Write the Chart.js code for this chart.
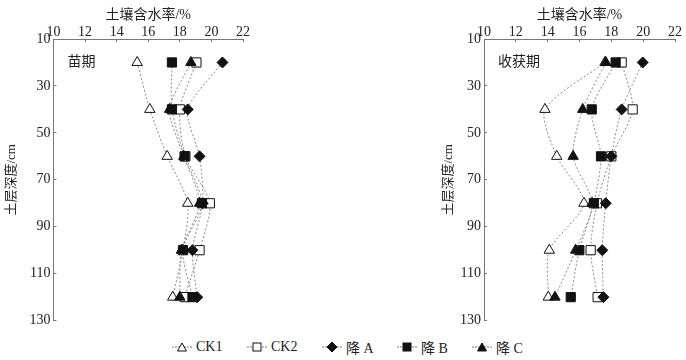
<!DOCTYPE html>
<html>
<head>
<meta charset="utf-8">
<script src="https://cdn.jsdelivr.net/npm/chart.js@4.4.1/dist/chart.umd.min.js"></script>
<style>
  body { margin: 0; width: 686px; height: 360px; background: #fff; position: relative; overflow: hidden;
         font-family: "Liberation Serif", "Noto Sans CJK SC", serif; }
  #wrapL { position: absolute; left: 0; top: 0; width: 260px; height: 335px; }
  #wrapR { position: absolute; left: 430px; top: 0; width: 256px; height: 335px; }
  .item { position: absolute; top: 339px; height: 16px; display: flex; align-items: center; font-size: 14px; color: #222; }
  .item svg { margin-right: 4px; }
</style>
</head>
<body>
<div id="wrapL"><canvas id="seedling"></canvas></div>
<div id="wrapR"><canvas id="harvest"></canvas></div>
<div id="legend"></div>
<script>
// depth of each sampling layer (cm)
const depths = [20, 40, 60, 80, 100, 120];
const seriesNames = ['CK1', 'CK2', '降 A', '降 B', '降 C'];
const xTicks = [10, 12, 14, 16, 18, 20, 22];
const yTicks = [10, 30, 50, 70, 90, 110, 130];

// 苗期 soil moisture (%)
const seedCK1 = [15.3, 16.1, 17.2, 18.5, 18.2, 17.55];
const seedCK2 = [19.05, 18.0, 18.35, 19.9, 19.25, 18.3];
const seedA   = [20.7, 18.5, 19.25, 19.45, 18.8, 19.1];
const seedB   = [17.5, 17.5, 18.3, 19.4, 18.2, 18.8];
const seedC   = [18.7, 17.35, 18.25, 19.25, 18.1, 18.0];

// 收获期 soil moisture (%)
const harvCK1 = [17.6, 13.83, 14.57, 16.28, 14.1, 14.04];
const harvCK2 = [18.65, 19.34, 18.0, 17.1, 16.7, 17.14];
const harvA   = [19.97, 18.65, 18.0, 17.65, 17.43, 17.5];
const harvB   = [18.27, 16.77, 17.35, 16.9, 15.99, 15.45];
const harvC   = [17.65, 16.2, 15.6, 16.8, 15.76, 14.46];

const styles = [
    { point: 'triangle', fill: '#fff', radius: 6 },
    { point: 'rect', fill: '#fff', radius: 6.5 },
    { point: 'rectRot', fill: '#111', radius: 5.5 },
    { point: 'rect', fill: '#111', radius: 6.5 },
    { point: 'triangle', fill: '#111', radius: 6 }
];

const serif = '"Liberation Serif", "Noto Sans CJK SC", serif';

function buildDatasets(valueLists) {
    return valueLists.map((vals, i) => ({
        label: seriesNames[i],
        data: depths.map((d, j) => ({ x: vals[j], y: d })),
        order: 5 - i, // filled markers sit on top of the open ones
        borderColor: '#8a8a8a',
        borderWidth: 1,
        borderDash: [2, 2],
        pointStyle: styles[i].point,
        pointRadius: styles[i].radius,
        pointBackgroundColor: styles[i].fill,
        pointBorderColor: '#111',
        pointBorderWidth: 1,
        tension: 0.25,
        fill: false
    }));
}

const panelLabel = {
    id: 'panelLabel',
    afterDraw(chart, args, opts) {
        const { ctx, chartArea } = chart;
        ctx.save();
        ctx.font = '14px ' + serif;
        ctx.fillStyle = '#222';
        ctx.textBaseline = 'middle';
        ctx.fillText(opts.text, chartArea.left + 14, chartArea.top + 23);
        ctx.restore();
    }
};

function renderPanel(id, valueLists, text, yWidth, yTitlePad, rightPad) {
    const ctx = document.getElementById(id).getContext('2d');
    return new Chart(ctx, {
        type: 'line',
        data: { datasets: buildDatasets(valueLists) },
        plugins: [panelLabel],
        options: {
            animation: false,
            responsive: true,
            maintainAspectRatio: false,
            layout: { padding: { top: 0, left: 0, right: rightPad, bottom: 12 } },
            scales: {
                x: {
                    type: 'linear',
                    position: 'top',
                    min: 10,
                    max: 22,
                    afterBuildTicks: (scale) => { scale.ticks = xTicks.map(v => ({ value: v })); },
                    afterFit: (scale) => { scale.height = 39; },
                    grid: { drawOnChartArea: false, tickLength: -3, color: '#777' },
                    border: { color: '#777', dash: [1, 1] },
                    ticks: { padding: 1, color: '#222', font: { family: serif, size: 14 } },
                    title: { display: true, text: '土壤含水率/%', color: '#222', padding: { top: 7, bottom: 0 }, font: { family: serif, size: 14 } }
                },
                y: {
                    type: 'linear',
                    reverse: true,
                    min: 10,
                    max: 130,
                    afterBuildTicks: (scale) => { scale.ticks = yTicks.map(v => ({ value: v })); },
                    afterFit: (scale) => { scale.width = yWidth; },
                    grid: { drawOnChartArea: false, tickLength: -3, color: '#777' },
                    border: { color: '#777', dash: [1, 1] },
                    ticks: { padding: 6, color: '#222', font: { family: serif, size: 14 } },
                    title: { display: true, text: '土层深度/cm', color: '#222', padding: { top: yTitlePad, bottom: 0 }, font: { family: serif, size: 13 } }
                }
            },
            plugins: {
                legend: { display: false },
                tooltip: { enabled: false },
                panelLabel: { text: text }
            }
        }
    });
}

renderPanel('seedling', [seedCK1, seedCK2, seedA, seedB, seedC], '苗期', 53.5, 4, 17);
renderPanel('harvest', [harvCK1, harvCK2, harvA, harvB, harvC], '收获期', 54, 11, 11);

// legend row under both panels
const legendLeft = [172, 247, 322, 397, 472];
const legendBox = document.getElementById('legend');
seriesNames.forEach((name, i) => {
    const s = styles[i];
    let mark;
    if (s.point === 'triangle') {
        mark = '<polygon points="10,2 14.5,10 5.5,10" fill="' + s.fill + '" stroke="#111"/>';
    } else if (s.point === 'rect') {
        mark = '<rect x="6" y="2" width="8" height="8" fill="' + s.fill + '" stroke="#111"/>';
    } else {
        mark = '<polygon points="10,1 15,6 10,11 5,6" fill="' + s.fill + '" stroke="#111"/>';
    }
    const div = document.createElement('div');
    div.className = 'item';
    div.style.left = legendLeft[i] + 'px';
    div.innerHTML = '<svg width="20" height="12"><line x1="0" y1="6" x2="20" y2="6" stroke="#777" stroke-dasharray="2,1"/>' +
        mark + '</svg><span>' + name + '</span>';
    legendBox.appendChild(div);
});
</script>
</body>
</html>
